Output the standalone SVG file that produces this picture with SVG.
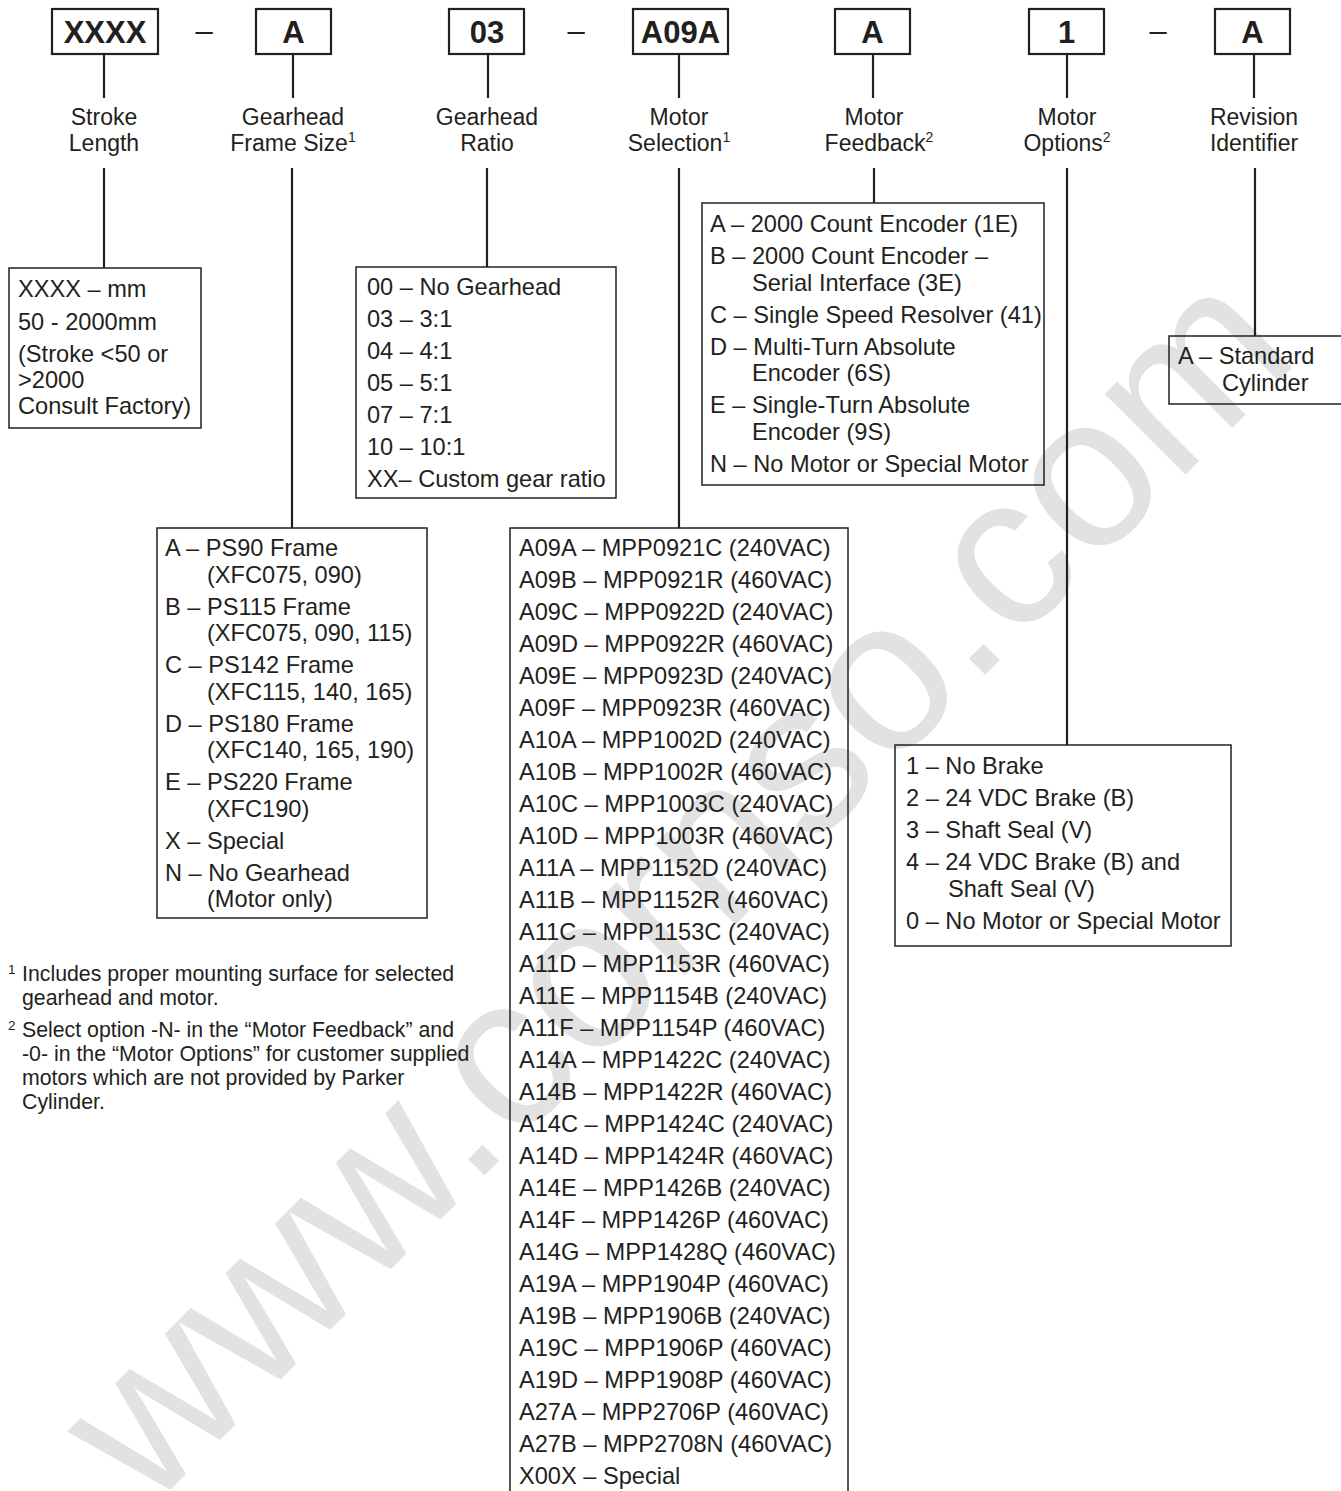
<svg xmlns="http://www.w3.org/2000/svg" width="1341" height="1491" viewBox="0 0 1341 1491">
<style>
text{font-family:"Liberation Sans",Arial,sans-serif;fill:#231f20}
.code{font-size:31px;font-weight:bold;text-anchor:middle}
.sep{font-size:31px;text-anchor:middle}
.lbl{font-size:23px;text-anchor:middle}
.sup{font-size:14px}
.item{font-size:23.6px}
.foot{font-size:21.3px}
.fsup{font-size:13.5px}
.box{fill:none;stroke:#231f20;stroke-width:2.2}
.lst{fill:none;stroke:#231f20;stroke-width:1.5}
.conn line{stroke:#231f20;stroke-width:2.2}
.wm{font-size:216px;fill:#e2e2e2}
</style>
<rect width="1341" height="1491" fill="#ffffff"/>
<text class="wm" transform="translate(148,1512) rotate(-45)">www.cornso.com</text>

<g id="connectors" class="conn">
<line x1="104" y1="54" x2="104" y2="98"/>
<line x1="293" y1="54" x2="293" y2="98"/>
<line x1="488" y1="54" x2="488" y2="98"/>
<line x1="679" y1="54" x2="679" y2="98"/>
<line x1="873" y1="54" x2="873" y2="98"/>
<line x1="1067" y1="54" x2="1067" y2="98"/>
<line x1="1254" y1="54" x2="1254" y2="98"/>
<line x1="104" y1="168" x2="104" y2="268"/>
<line x1="292" y1="168" x2="292" y2="528"/>
<line x1="487" y1="168" x2="487" y2="267"/>
<line x1="679" y1="168" x2="679" y2="528"/>
<line x1="874" y1="168" x2="874" y2="203"/>
<line x1="1067" y1="168" x2="1067" y2="745"/>
<line x1="1255" y1="168" x2="1255" y2="336"/>
</g>

<g id="code-stroke"><rect class="box" x="52" y="9" width="106" height="45"/><text class="code" x="105" y="43">XXXX</text></g>
<text class="sep" x="204" y="41">–</text>
<g id="code-frame"><rect class="box" x="256" y="9" width="75" height="45"/><text class="code" x="293.5" y="43">A</text></g>
<g id="code-ratio"><rect class="box" x="449" y="9" width="75" height="45"/><text class="code" x="487" y="43">03</text></g>
<text class="sep" x="576" y="41">–</text>
<g id="code-motor"><rect class="box" x="633" y="9" width="95" height="45"/><text class="code" x="680.5" y="43">A09A</text></g>
<g id="code-feedback"><rect class="box" x="835" y="9" width="75" height="45"/><text class="code" x="872.5" y="43">A</text></g>
<g id="code-options"><rect class="box" x="1029" y="9" width="75" height="45"/><text class="code" x="1066.5" y="43">1</text></g>
<text class="sep" x="1158" y="41">–</text>
<g id="code-revision"><rect class="box" x="1215" y="9" width="75" height="45"/><text class="code" x="1252.5" y="43">A</text></g>

<g id="labels">
<text class="lbl" x="104" y="125">Stroke</text><text class="lbl" x="104" y="151">Length</text>
<text class="lbl" x="293" y="125">Gearhead</text><text class="lbl" x="293" y="151">Frame Size<tspan class="sup" dy="-9">1</tspan></text>
<text class="lbl" x="487" y="125">Gearhead</text><text class="lbl" x="487" y="151">Ratio</text>
<text class="lbl" x="679" y="125">Motor</text><text class="lbl" x="679" y="151">Selection<tspan class="sup" dy="-9">1</tspan></text>
<text class="lbl" x="874" y="125">Motor</text><text class="lbl" x="879" y="151">Feedback<tspan class="sup" dy="-9">2</tspan></text>
<text class="lbl" x="1067" y="125">Motor</text><text class="lbl" x="1067" y="151">Options<tspan class="sup" dy="-9">2</tspan></text>
<text class="lbl" x="1254" y="125">Revision</text><text class="lbl" x="1254" y="151">Identifier</text>
</g>

<g id="box-stroke">
<rect class="lst" x="9" y="268" width="192" height="160"/>
<text class="item" x="18" y="297">XXXX – mm</text>
<text class="item" x="18" y="330">50 - 2000mm</text>
<text class="item" x="18" y="362">(Stroke &lt;50 or</text>
<text class="item" x="18" y="388">&gt;2000</text>
<text class="item" x="18" y="414">Consult Factory)</text>
</g>

<g id="box-ratio">
<rect class="lst" x="356" y="267" width="260" height="231"/>
<text class="item" x="367" y="295">00 – No Gearhead</text>
<text class="item" x="367" y="327">03 – 3:1</text>
<text class="item" x="367" y="359">04 – 4:1</text>
<text class="item" x="367" y="391">05 – 5:1</text>
<text class="item" x="367" y="423">07 – 7:1</text>
<text class="item" x="367" y="455">10 – 10:1</text>
<text class="item" x="367" y="487">XX– Custom gear ratio</text>
</g>

<g id="box-feedback">
<rect class="lst" x="702" y="203" width="342" height="282"/>
<text class="item" x="710" y="232">A – 2000 Count Encoder (1E)</text>
<text class="item" x="710" y="264">B – 2000 Count Encoder –</text>
<text class="item" x="752" y="291">Serial Interface (3E)</text>
<text class="item" x="710" y="323">C – Single Speed Resolver (41)</text>
<text class="item" x="710" y="355">D – Multi-Turn Absolute</text>
<text class="item" x="752" y="381">Encoder (6S)</text>
<text class="item" x="710" y="413">E – Single-Turn Absolute</text>
<text class="item" x="752" y="440">Encoder (9S)</text>
<text class="item" x="710" y="472">N – No Motor or Special Motor</text>
</g>

<g id="box-revision">
<rect class="lst" x="1169" y="336" width="180" height="68"/>
<text class="item" x="1178" y="364">A – Standard</text>
<text class="item" x="1222" y="391">Cylinder</text>
</g>

<g id="box-frame">
<rect class="lst" x="157" y="528" width="270" height="390"/>
<text class="item" x="165" y="556">A – PS90 Frame</text>
<text class="item" x="207" y="582.5">(XFC075, 090)</text>
<text class="item" x="165" y="614.5">B – PS115 Frame</text>
<text class="item" x="207" y="641">(XFC075, 090, 115)</text>
<text class="item" x="165" y="673">C – PS142 Frame</text>
<text class="item" x="207" y="699.5">(XFC115, 140, 165)</text>
<text class="item" x="165" y="731.5">D – PS180 Frame</text>
<text class="item" x="207" y="758">(XFC140, 165, 190)</text>
<text class="item" x="165" y="790">E – PS220 Frame</text>
<text class="item" x="207" y="816.5">(XFC190)</text>
<text class="item" x="165" y="848.5">X – Special</text>
<text class="item" x="165" y="880.5">N – No Gearhead</text>
<text class="item" x="207" y="907">(Motor only)</text>
</g>

<g id="box-motor">
<rect class="lst" x="510" y="528" width="338" height="975"/>
<text class="item" x="519" y="556">A09A – MPP0921C (240VAC)</text>
<text class="item" x="519" y="588">A09B – MPP0921R (460VAC)</text>
<text class="item" x="519" y="620">A09C – MPP0922D (240VAC)</text>
<text class="item" x="519" y="652">A09D – MPP0922R (460VAC)</text>
<text class="item" x="519" y="684">A09E – MPP0923D (240VAC)</text>
<text class="item" x="519" y="716">A09F – MPP0923R (460VAC)</text>
<text class="item" x="519" y="748">A10A – MPP1002D (240VAC)</text>
<text class="item" x="519" y="780">A10B – MPP1002R (460VAC)</text>
<text class="item" x="519" y="812">A10C – MPP1003C (240VAC)</text>
<text class="item" x="519" y="844">A10D – MPP1003R (460VAC)</text>
<text class="item" x="519" y="876">A11A – MPP1152D (240VAC)</text>
<text class="item" x="519" y="908">A11B – MPP1152R (460VAC)</text>
<text class="item" x="519" y="940">A11C – MPP1153C (240VAC)</text>
<text class="item" x="519" y="972">A11D – MPP1153R (460VAC)</text>
<text class="item" x="519" y="1004">A11E – MPP1154B (240VAC)</text>
<text class="item" x="519" y="1036">A11F – MPP1154P (460VAC)</text>
<text class="item" x="519" y="1068">A14A – MPP1422C (240VAC)</text>
<text class="item" x="519" y="1100">A14B – MPP1422R (460VAC)</text>
<text class="item" x="519" y="1132">A14C – MPP1424C (240VAC)</text>
<text class="item" x="519" y="1164">A14D – MPP1424R (460VAC)</text>
<text class="item" x="519" y="1196">A14E – MPP1426B (240VAC)</text>
<text class="item" x="519" y="1228">A14F – MPP1426P (460VAC)</text>
<text class="item" x="519" y="1260">A14G – MPP1428Q (460VAC)</text>
<text class="item" x="519" y="1292">A19A – MPP1904P (460VAC)</text>
<text class="item" x="519" y="1324">A19B – MPP1906B (240VAC)</text>
<text class="item" x="519" y="1356">A19C – MPP1906P (460VAC)</text>
<text class="item" x="519" y="1388">A19D – MPP1908P (460VAC)</text>
<text class="item" x="519" y="1420">A27A – MPP2706P (460VAC)</text>
<text class="item" x="519" y="1452">A27B – MPP2708N (460VAC)</text>
<text class="item" x="519" y="1484">X00X – Special</text>
</g>

<g id="box-options">
<rect class="lst" x="895" y="745" width="336" height="201"/>
<text class="item" x="906" y="774">1 – No Brake</text>
<text class="item" x="906" y="806">2 – 24 VDC Brake (B)</text>
<text class="item" x="906" y="838">3 – Shaft Seal (V)</text>
<text class="item" x="906" y="870">4 – 24 VDC Brake (B) and</text>
<text class="item" x="948" y="897">Shaft Seal (V)</text>
<text class="item" x="906" y="929">0 – No Motor or Special Motor</text>
</g>

<g id="footnotes">
<text class="fsup" x="8" y="974">1</text>
<text class="foot" x="22" y="981">Includes proper mounting surface for selected</text>
<text class="foot" x="22" y="1005">gearhead and motor.</text>
<text class="fsup" x="8" y="1030">2</text>
<text class="foot" x="22" y="1037">Select option -N- in the “Motor Feedback” and</text>
<text class="foot" x="22" y="1061">-0- in the “Motor Options” for customer supplied</text>
<text class="foot" x="22" y="1085">motors which are not provided by Parker</text>
<text class="foot" x="22" y="1109">Cylinder.</text>
</g>
</svg>
